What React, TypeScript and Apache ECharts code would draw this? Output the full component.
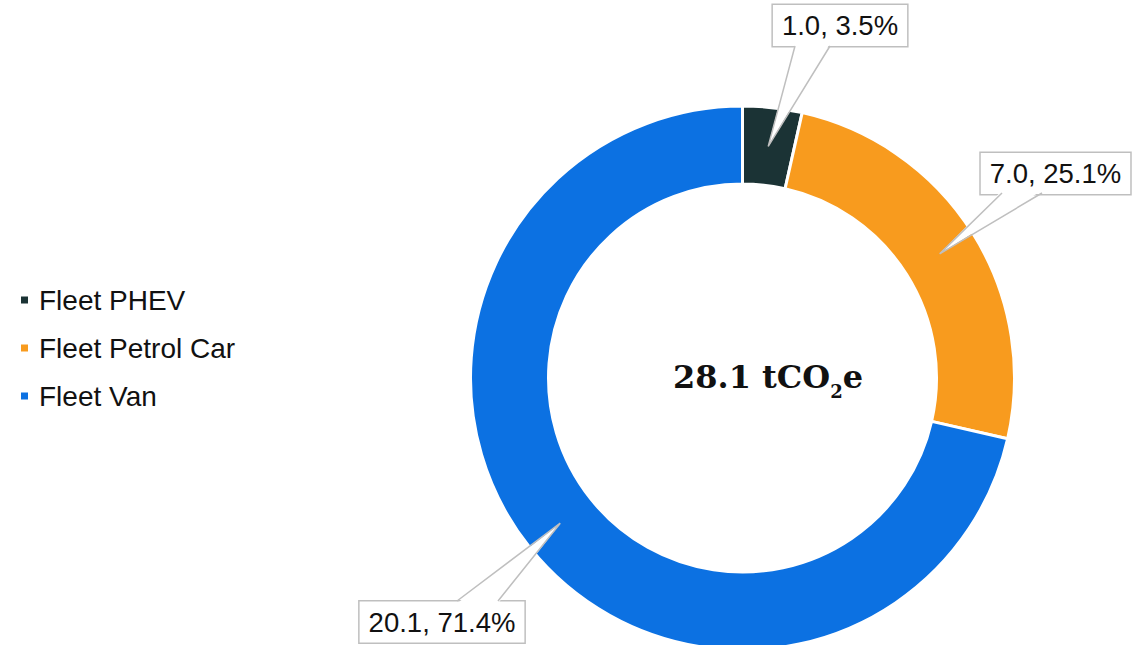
import React, { useEffect, useRef } from "react";
import * as echarts from "echarts";

const categories = ["Fleet PHEV", "Fleet Petrol Car", "Fleet Van"];
const values = [0.99, 7.045, 20.07];
const colors = ["#1b3335", "#f89b1e", "#0c71e2"];
const totalText = "28.1";

// label box centres and wedge bases (layout only)
const labelPos = [
  { x: 840, y: 25.5 },
  { x: 1055.5, y: 173.5 },
  { x: 442, y: 622 },
];
const wedgeBase = [
  { x1: 795, x2: 830, y: 46, dir: -1 },
  { x1: 1002, x2: 1042, y: 193, dir: -1 },
  { x1: 457, x2: 498, y: 601, dir: 1 },
];

export default function App() {
  const ref = useRef<HTMLDivElement>(null);
  useEffect(() => {
    if (!ref.current) return;
    const chart = echarts.init(ref.current, undefined, { renderer: "svg" });
    const cx = 742.5;
    const cy = 378;
    chart.setOption({
      animation: false,
      backgroundColor: "#ffffff",
      legend: {
        orient: "vertical",
        left: 14,
        top: 280,
        padding: 5,
        icon: "rect",
        itemWidth: 9,
        itemHeight: 9,
        itemGap: 18,
        data: categories,
        textStyle: {
          fontFamily: "Liberation Sans, Arial, sans-serif",
          fontSize: 28,
          lineHeight: 30,
          color: "#111111",
          padding: [0, 0, 0, 5],
        },
      },
      series: [
        {
          type: "pie",
          center: [cx, cy],
          radius: [194, 272],
          startAngle: 90,
          clockwise: true,
          avoidLabelOverlap: false,
          percentPrecision: 1,
          itemStyle: { borderColor: "#ffffff", borderWidth: 3 },
          label: {
            show: true,
            formatter: (p: any) => `${p.value.toFixed(1)}, ${p.percent.toFixed(1)}%`,
            fontFamily: "Liberation Sans, Arial, sans-serif",
            fontSize: 27.5,
            lineHeight: 31,
            color: "#111111",
            backgroundColor: "#ffffff",
            borderColor: "#bfbfbf",
            borderWidth: 1.5,
            padding: [5, 9],
          },
          labelLine: { show: false },
          labelLayout: (params: any) => {
            const p = labelPos[params.dataIndex];
            return { x: p.x, y: p.y, align: "center", verticalAlign: "middle" };
          },
          emphasis: { disabled: true },
          data: categories.map((c, i) => ({
            name: c,
            value: values[i],
            itemStyle: { color: colors[i] },
          })),
        },
      ],
    });

    // wedge callout pointers derived from the pie's own layout
    const graphics: any[] = [];
    let data: any = null;
    try {
      data = (chart as any).getModel().getSeriesByIndex(0).getData();
    } catch (e) {
      data = null;
    }
    const total = values.reduce((a, b) => a + b, 0);
    let acc = 0;
    categories.forEach((_, i) => {
      let tx: number, ty: number;
      const lay = data ? data.getItemLayout(i) : null;
      if (lay) {
        const mid = (lay.startAngle + lay.endAngle) / 2;
        const rm = (lay.r + lay.r0) / 2;
        tx = lay.cx + rm * Math.cos(mid);
        ty = lay.cy + rm * Math.sin(mid);
      } else {
        const a0 = (acc / total) * Math.PI * 2;
        acc += values[i];
        const a1 = (acc / total) * Math.PI * 2;
        const mid = -Math.PI / 2 + (a0 + a1) / 2;
        tx = cx + 233 * Math.cos(mid);
        ty = cy + 233 * Math.sin(mid);
      }
      const w = wedgeBase[i];
      graphics.push({
        type: "polygon",
        z: 10,
        shape: {
          points: [
            [w.x1, w.y + w.dir * 2.5],
            [tx, ty],
            [w.x2, w.y + w.dir * 2.5],
          ],
        },
        style: { fill: "#ffffff", stroke: "none" },
        silent: true,
      });
      graphics.push({
        type: "polyline",
        z: 11,
        shape: { points: [[w.x1, w.y], [tx, ty], [w.x2, w.y]] },
        style: { fill: "none", stroke: "#bfbfbf", lineWidth: 1.5 },
        silent: true,
      });
    });
    graphics.push({
      type: "text",
      z: 12,
      x: 768,
      y: 377,
      style: {
        text: `{a|${totalText} tCO}{s|2}{a|e}`,
        align: "center",
        verticalAlign: "middle",
        rich: {
          a: {
            fontFamily: "DejaVu Serif, Georgia, serif",
            fontWeight: "bold",
            fontSize: 32,
            lineHeight: 38,
            fill: "#111111",
            color: "#111111",
          },
          s: {
            fontFamily: "DejaVu Serif, Georgia, serif",
            fontWeight: "bold",
            fontSize: 18,
            lineHeight: 18,
            verticalAlign: "top",
            padding: [24, 0, 0, 0],
            fill: "#111111",
            color: "#111111",
          },
        },
      },
    });
    chart.setOption({ graphic: graphics });
    return () => chart.dispose();
  }, []);
  return (
    <div
      ref={ref}
      style={{ position: "absolute", left: 0, top: 0, width: 1140, height: 645 }}
    />
  );
}
